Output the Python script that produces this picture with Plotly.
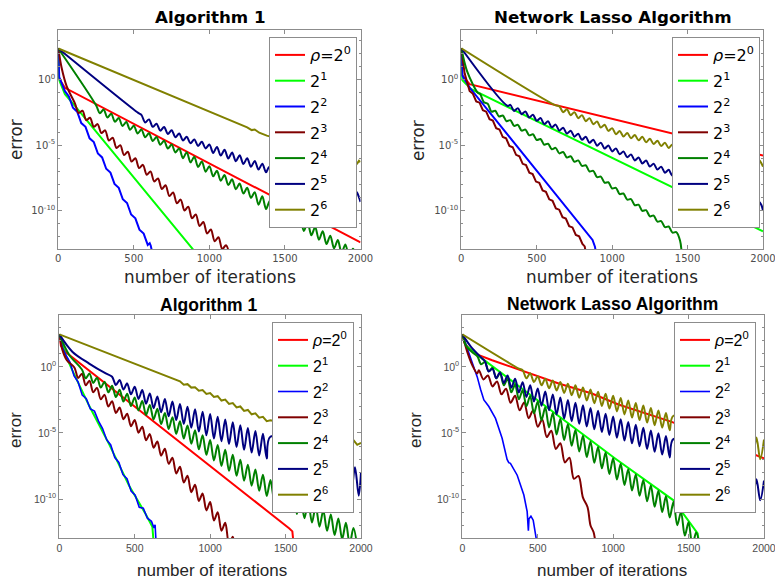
import plotly.graph_objects as go

# ---------------- data: iteration index and log10(error) ----------------
RHO_LABELS = ["<i>\u03c1</i>=2<sup>0</sup>", "2<sup>1</sup>", "2<sup>2</sup>", "2<sup>3</sup>",
              "2<sup>4</sup>", "2<sup>5</sup>", "2<sup>6</sup>"]
COLORS = ["#ff0000", "#00ff00", "#0000ff", "#800000", "#008000", "#000080", "#808000"]
PANEL_TITLES = ["Algorithm 1", "Network Lasso Algorithm", "Algorithm 1", "Network Lasso Algorithm"]
X_TICKS = [0, 500, 1000, 1500, 2000]
Y_TICK_VALUES = [1, 1e-5, 1e-10]
Y_TICK_TEXT = ["10<sup>0</sup>", "10<sup>-5</sup>", "10<sup>-10</sup>"]

# ---- panel 1 (top left, Algorithm 1) ----
P1_R_X = [0, 2, 44, 2000]
P1_R_Y = [2.4, 0.15, -0.61, -12.45]
P1_L_X = [0, 5, 44, 110, 900]
P1_L_Y = [2.4, 0.0, -1.1, -2.0, -13.1]
P1_B_X = [0, 6, 44, 70, 97, 125, 152, 180, 207, 235, 262, 290, 317, 345, 372, 400, 427, 455, 482, 510,
          537, 565, 592, 605, 612, 625]
P1_B_Y = [2.4, 0.2, -0.87, -1.27, -2.14, -2.44, -3.31, -3.60, -4.48, -4.77, -5.64, -5.94, -6.81, -7.10,
          -7.97, -8.27, -9.14, -9.43, -10.31, -10.60, -11.47, -11.77, -12.64, -12.5, -12.7, -13.4]
P1_DR_X = [0, 22, 55, 110, 135, 160, 185, 210, 235, 260, 285, 310, 335, 360, 385, 410, 435, 460, 485,
           510, 535, 560, 585, 610, 635, 660, 685, 710, 735, 760, 785, 810, 835, 860, 885, 910, 935, 960,
           985, 1010, 1035, 1060, 1085, 1110, 1135]
P1_DR_Y = [2.4, 0.92, -0.48, -1.8, -2.54, -2.37, -3.09, -2.91, -3.6, -3.39, -4.08, -3.87, -4.65, -4.43,
           -5.22, -5.0, -5.76, -5.51, -6.26, -6.01, -6.76, -6.51, -7.26, -7.01, -7.78, -7.55, -8.36, -8.07,
           -8.9, -8.62, -9.45, -9.17, -10.0, -9.71, -10.6, -10.3, -11.19, -10.88, -11.77, -11.46, -12.36,
           -12.05, -12.96, -12.66, -13.5]
P1_G_X = [0, 250, 275, 300, 325, 350, 375, 400, 425, 450, 475, 500, 525, 550, 575, 600, 625, 650, 675,
          700, 725, 750, 775, 800, 825, 850, 875, 900, 925, 950, 975, 1000, 1025, 1050, 1075, 1100, 1125,
          1150, 1175, 1200, 1225, 1250, 1275, 1300, 1325, 1350, 1375, 1400, 1425, 1450, 1475, 1500, 1525,
          1550, 1575, 1600, 1625, 1650, 1675, 1700, 1725, 1750, 1775, 1800, 1825, 1850, 1875, 1900, 1925,
          1950, 1975]
P1_G_Y = [2.4, -1.95, -2.56, -2.27, -2.89, -2.6, -3.21, -2.92, -3.53, -3.23, -3.82, -3.51, -4.11, -3.8,
          -4.4, -4.09, -4.68, -4.37, -4.97, -4.66, -5.26, -4.96, -5.56, -5.25, -6.0, -5.54, -6.32, -5.89,
          -6.67, -6.25, -7.03, -6.61, -7.39, -6.96, -7.73, -7.29, -8.06, -7.62, -8.38, -7.94, -8.71, -8.27,
          -9.04, -8.6, -9.56, -8.92, -9.89, -9.25, -10.22, -9.59, -10.56, -9.93, -10.9, -10.26, -11.23,
          -10.6, -11.57, -10.93, -11.9, -11.27, -12.24, -11.6, -12.57, -11.93, -12.9, -12.27, -13.24,
          -12.6, -13.57, -12.93, -13.6]
P1_N_X = [0, 529, 550, 575, 600, 625, 650, 675, 700, 725, 750, 775, 800, 825, 850, 875, 900, 925, 950,
          975, 1000, 1025, 1050, 1075, 1100, 1125, 1150, 1175, 1200, 1225, 1250, 1275, 1300, 1325, 1350,
          1375, 1400, 1900, 1925, 1950, 1975, 1990, 2000]
P1_N_Y = [2.4, -2.53, -2.68, -3.26, -3.03, -3.6, -3.36, -3.89, -3.61, -4.14, -3.86, -4.39, -4.11, -4.64,
          -4.36, -4.86, -4.56, -5.06, -4.75, -5.25, -4.95, -5.6, -5.14, -5.8, -5.36, -6.02, -5.57, -6.23,
          -5.78, -6.44, -6.0, -6.66, -6.21, -6.87, -6.42, -7.08, -6.63, -8.5, -9.3, -8.45, -8.6, -9.0,
          -9.35]
P1_O_X = [0, 1250, 1280, 1300, 1330, 1380, 1900, 1945, 1960, 1975, 1990, 2000]
P1_O_Y = [2.4, -3.64, -3.85, -3.8, -4.05, -4.27, -5.95, -6.1, -6.0, -6.45, -6.2, -6.3]

# ---- panel 2 (top right, Network Lasso) ----
P2_R_X = [0, 3, 55, 2000]
P2_R_Y = [2.41, 0.4, -0.33, -5.8]
P2_L_X = [0, 4, 66, 2000]
P2_L_Y = [2.41, 0.0, -0.72, -11.6]
P2_B_X = [0, 8, 55, 870, 886, 895]
P2_B_Y = [2.41, 0.3, -0.59, -12.26, -12.77, -13.4]
P2_DR_X = [0, 22, 55, 77, 99, 121, 143, 165, 187, 209, 231, 253, 275, 297, 319, 341, 363, 385, 407, 429,
           451, 473, 495, 517, 539, 561, 583, 605, 627, 649, 671, 693, 715, 737, 759, 781, 803, 818, 828]
P2_DR_Y = [2.41, 0.5, -0.85, -1.07, -1.65, -1.75, -2.33, -2.44, -3.02, -3.12, -3.70, -3.80, -4.38, -4.48,
           -5.06, -5.16, -5.74, -5.85, -6.43, -6.53, -7.11, -7.21, -7.79, -7.89, -8.47, -8.57, -9.15,
           -9.26, -9.84, -9.94, -10.52, -10.62, -11.20, -11.30, -11.88, -11.98, -12.56, -12.75, -13.4]
P2_G_X = [0, 40, 110, 125, 150, 175, 200, 225, 250, 275, 300, 325, 350, 375, 400, 425, 450, 475, 500, 525,
          550, 575, 600, 625, 650, 675, 700, 725, 750, 775, 800, 825, 850, 875, 900, 925, 950, 975, 1000,
          1025, 1050, 1075, 1100, 1125, 1150, 1175, 1200, 1225, 1250, 1275, 1300, 1325, 1350, 1375, 1400,
          1425, 1450, 1462]
P2_G_Y = [2.41, 0.6, -1.0, -1.09, -1.72, -1.83, -2.44, -2.37, -2.81, -2.73, -3.17, -3.09, -3.53, -3.45,
          -3.89, -3.81, -4.25, -4.17, -4.61, -4.53, -4.97, -4.89, -5.31, -5.21, -5.63, -5.53, -5.95, -5.85,
          -6.27, -6.17, -6.59, -6.54, -7.02, -6.97, -7.45, -7.41, -7.88, -7.84, -8.32, -8.27, -8.75, -8.70,
          -9.17, -9.13, -9.60, -9.56, -10.03, -9.98, -10.45, -10.39, -10.86, -10.81, -11.28, -11.23,
          -11.70, -11.65, -12.3, -13.4]
P2_N_X = [0, 308, 325, 350, 375, 400, 425, 450, 475, 500, 525, 550, 575, 600, 625, 650, 675, 700, 725,
          750, 775, 800, 825, 850, 875, 900, 925, 950, 975, 1000, 1025, 1050, 1075, 1100, 1125, 1150, 1175,
          1200, 1225, 1250, 1275, 1300, 1325, 1350, 1375, 1400, 1900, 1945, 1960, 1975, 1990, 2000]
P2_N_Y = [2.41, -2.0, -1.92, -2.38, -2.17, -2.63, -2.42, -2.89, -2.67, -3.14, -2.93, -3.39, -3.18, -3.64,
          -3.43, -3.89, -3.67, -4.12, -3.90, -4.35, -4.13, -4.59, -4.36, -4.82, -4.59, -5.04, -4.81, -5.26,
          -5.03, -5.48, -5.25, -5.70, -5.48, -5.93, -5.71, -6.17, -5.95, -6.40, -6.18, -6.64, -6.42, -6.87,
          -6.65, -7.11, -6.89, -7.34, -9.2, -9.3, -9.6, -9.35, -9.6, -10.0]
P2_O_X = [0, 625, 650, 675, 700, 725, 750, 775, 800, 825, 850, 875, 900, 925, 950, 975, 1000, 1025, 1050,
          1075, 1100, 1125, 1150, 1175, 1200, 1225, 1250, 1275, 1300, 1325, 1350, 1375, 1400, 1900, 1945,
          1960, 1975, 1990, 2000]
P2_O_Y = [2.41, -1.96, -2.03, -2.48, -2.26, -2.71, -2.48, -2.94, -2.71, -3.17, -2.94, -3.40, -3.19, -3.66,
          -3.44, -3.91, -3.70, -4.17, -3.92, -4.34, -4.07, -4.48, -4.22, -4.63, -4.36, -4.78, -4.51, -4.92,
          -4.66, -5.07, -4.81, -5.22, -4.95, -5.95, -6.1, -6.45, -6.15, -6.4, -6.65]

# ---- panel 3 (bottom left, Algorithm 1) ----
P3_R_X = [0, 10, 44, 1035, 1392, 1525, 1545, 1553]
P3_R_Y = [2.46, 1.6, 1.1, -7.8, -11.0, -12.23, -12.45, -13.4]
P3_L_X = [0, 44, 88, 198, 330, 463, 573, 617, 626]
P3_L_Y = [2.46, 0.8, -0.3, -2.95, -5.85, -9.0, -11.15, -12.1, -13.4]
P3_B_X = [0, 20, 44, 71, 98, 125, 152, 179, 206, 233, 260, 287, 314, 341, 368, 395, 422, 449, 476, 503,
          530, 557, 584, 611, 628, 635, 642]
P3_B_Y = [2.46, 1.5, 0.88, 0.34, -0.69, -1.16, -2.14, -2.41, -3.19, -3.35, -4.11, -4.67, -5.51, -5.91,
          -6.87, -7.23, -8.16, -8.47, -9.39, -9.71, -10.62, -10.70, -11.45, -11.69, -12.2, -11.95, -13.4]
P3_DR_X = [0, 20, 50, 100, 125, 150, 175, 200, 225, 250, 275, 300, 325, 350, 375, 400, 425, 450, 475,
           500, 525, 550, 575, 600, 625, 650, 675, 700, 725, 750, 775, 800, 825, 850, 875, 900, 925, 950,
           975, 1000, 1025, 1050, 1075, 1100, 1125, 1150, 1160]
P3_DR_Y = [2.46, 1.3, 0.5, -0.05, -0.84, -0.52, -1.39, -1.05, -1.92, -1.59, -2.46, -2.12, -3.0, -2.6,
           -3.49, -3.07, -3.96, -3.55, -4.49, -4.02, -4.98, -4.53, -5.56, -5.09, -6.12, -5.64, -6.72, -6.2,
           -7.34, -6.88, -8.07, -7.56, -8.75, -8.24, -9.48, -8.92, -10.15, -9.58, -10.86, -10.23, -11.62,
           -11.0, -12.4, -11.8, -13.4, -12.85, -13.5]
P3_G_X = [0, 66, 150, 175, 200, 225, 250, 275, 300, 325, 350, 375, 400, 425, 450, 475, 500, 525, 550, 575,
          600, 625, 650, 675, 700, 725, 750, 775, 800, 825, 850, 875, 900, 925, 950, 975, 1000, 1025, 1050,
          1075, 1100, 1125, 1150, 1175, 1200, 1225, 1250, 1275, 1300, 1325, 1350, 1375, 1400, 1425, 1450,
          1475, 1500, 1525, 1550, 1575, 1600, 1625, 1650, 1675, 1700, 1725, 1750, 1775, 1800, 1825, 1850,
          1875, 1900, 1925, 1950, 1975]
P3_G_Y = [2.46, 0.9, -0.2, -0.86, -0.51, -1.22, -0.82, -1.57, -1.12, -1.93, -1.43, -2.28, -1.73, -2.63,
          -2.03, -2.97, -2.31, -3.3, -2.59, -3.64, -2.88, -3.98, -3.17, -4.33, -3.49, -4.7, -3.81, -5.07,
          -4.12, -5.43, -4.44, -5.82, -4.8, -6.24, -5.17, -6.66, -5.54, -7.08, -5.91, -7.5, -6.28, -7.87,
          -6.65, -8.24, -7.03, -8.62, -7.4, -8.99, -7.77, -9.37, -8.17, -9.77, -8.56, -10.13, -8.89, -10.46,
          -9.23, -10.8, -9.56, -11.13, -9.9, -11.46, -10.22, -11.78, -10.53, -12.09, -10.85, -12.41,
          -11.17, -12.73, -11.48, -13.04, -11.8, -13.4, -12.2, -13.6]
P3_N_X = [0, 88, 198, 308, 350, 375, 400, 425, 450, 475, 500, 525, 550, 575, 600, 625, 650, 675, 700,
          725, 750, 775, 800, 825, 850, 875, 900, 925, 950, 975, 1000, 1025, 1050, 1075, 1100, 1125, 1150,
          1175, 1200, 1225, 1250, 1275, 1300, 1325, 1350, 1375, 1400, 1910, 1935, 1960, 1985, 2000]
P3_N_Y = [2.46, 1.13, 0.25, -0.5, -0.75, -1.37, -0.99, -1.72, -1.25, -2.08, -1.5, -2.43, -1.76, -2.79,
          -2.01, -3.13, -2.24, -3.44, -2.44, -3.74, -2.63, -4.03, -2.82, -4.32, -3.02, -4.61, -3.2, -4.9,
          -3.39, -5.18, -3.57, -5.42, -3.77, -5.63, -3.98, -5.84, -4.2, -6.06, -4.42, -6.28, -4.63, -6.49,
          -4.85, -6.71, -5.07, -6.93, -5.28, -7.5, -9.5, -7.6, -9.75, -8.0]
P3_O_X = [0, 800, 825, 850, 875, 900, 925, 950, 975, 1000, 1025, 1050, 1075, 1100, 1125, 1150, 1175,
          1200, 1225, 1250, 1275, 1300, 1325, 1350, 1375, 1400, 1900, 1925, 1950, 1975, 2000]
P3_O_Y = [2.46, -1.09, -1.35, -1.31, -1.57, -1.54, -1.8, -1.76, -2.05, -1.98, -2.28, -2.22, -2.55, -2.48,
          -2.81, -2.74, -3.07, -3.0, -3.33, -3.26, -3.59, -3.52, -3.85, -3.78, -4.11, -4.04, -5.4, -5.75,
          -5.55, -5.9, -5.75]

# ---- panel 4 (bottom right, Network Lasso) ----
P4_R_X = [0, 15, 44, 110, 198, 419, 639, 859, 1035, 1388, 2000]
P4_R_Y = [2.46, 1.8, 1.39, 0.88, 0.5, -0.38, -1.26, -2.02, -2.85, -4.16, -6.93]
P4_L_X = [0, 25, 88, 308, 1013, 1400, 1560, 1570]
P4_L_Y = [2.46, 1.6, 1.0, -0.88, -6.93, -10.1, -12.6, -13.4]
P4_B_X = [0, 33, 66, 99, 121, 143, 160, 176, 220, 264, 297, 308, 319, 364, 408, 430, 438, 442, 455, 470,
          480, 496]
P4_B_Y = [2.46, 1.39, 0.38, -0.76, -1.7, -2.5, -2.75, -3.0, -3.9, -5.4, -7.0, -7.25, -7.3, -8.2, -9.7,
          -10.96, -12.4, -11.5, -11.3, -11.6, -12.3, -13.4]
P4_DR_X = [0, 33, 66, 99, 110, 140, 170, 200, 230, 260, 290, 320, 350, 380, 410, 440, 470, 500, 530, 560,
           590, 620, 650, 680, 710, 740, 770, 800, 830, 850, 870, 885]
P4_DR_Y = [2.46, 1.13, 0.13, -0.5, -0.25, -0.95, -0.66, -1.48, -1.1, -2.08, -1.65, -2.72, -2.19, -3.29,
           -2.69, -3.89, -3.28, -4.53, -3.98, -5.31, -4.84, -6.21, -5.78, -7.23, -6.87, -8.47, -8.26, -9.9,
           -10.6, -12.0, -12.5, -13.5]
P4_G_X = [0, 25, 66, 100, 125, 150, 175, 200, 225, 250, 275, 300, 325, 350, 375, 400, 425, 450, 475, 500,
          525, 550, 575, 600, 625, 650, 675, 700, 725, 750, 775, 800, 825, 850, 875, 900, 925, 950, 975,
          1000, 1025, 1050, 1075, 1100, 1125, 1150, 1175, 1200, 1225, 1250, 1275, 1300, 1325, 1350, 1375,
          1400, 1425, 1450, 1475, 1500, 1525, 1550, 1575]
P4_G_Y = [2.46, 1.6, 1.1, 0.8, 0.19, 0.37, -0.34, -0.06, -0.87, -0.48, -1.4, -0.91, -1.93, -1.34, -2.46,
          -1.77, -2.99, -2.2, -3.52, -2.63, -4.05, -3.06, -4.58, -3.49, -5.11, -3.92, -5.54, -4.35, -5.97,
          -4.78, -6.4, -5.21, -6.83, -5.64, -7.25, -6.06, -7.68, -6.49, -8.11, -6.92, -8.53, -7.33, -8.94,
          -7.74, -9.35, -8.15, -9.76, -8.56, -10.17, -8.97, -10.58, -9.38, -10.99, -9.79, -11.4, -10.2,
          -11.99, -10.98, -12.77, -11.76, -13.55, -12.54, -13.6]
P4_N_X = [0, 66, 132, 150, 175, 200, 225, 250, 275, 300, 325, 350, 375, 400, 425, 450, 475, 500, 525, 550,
          575, 600, 625, 650, 675, 700, 725, 750, 775, 800, 825, 850, 875, 900, 925, 950, 975, 1000, 1025,
          1050, 1075, 1100, 1125, 1150, 1175, 1200, 1225, 1250, 1275, 1300, 1325, 1350, 1375, 1400, 1900,
          1925, 1950, 1975, 2000]
P4_N_Y = [2.46, 1.39, 0.63, 0.42, -0.36, -0.14, -0.87, -0.4, -1.23, -0.65, -1.58, -0.91, -1.94, -1.16,
          -2.28, -1.4, -2.62, -1.63, -2.95, -1.86, -3.28, -2.09, -3.6, -2.31, -3.91, -2.51, -4.11, -2.71,
          -4.31, -2.91, -4.51, -3.11, -4.72, -3.32, -4.93, -3.54, -5.15, -3.75, -5.36, -3.96, -5.57, -4.18,
          -5.79, -4.39, -6.0, -4.6, -6.21, -4.81, -6.42, -5.03, -6.64, -5.24, -6.85, -5.46, -8.4, -10.0,
          -8.5, -10.1, -8.6]
P4_O_X = [0, 375, 400, 425, 450, 475, 500, 525, 550, 575, 600, 625, 650, 675, 700, 725, 750, 775, 800,
          825, 850, 875, 900, 925, 950, 975, 1000, 1025, 1050, 1075, 1100, 1125, 1150, 1175, 1200, 1225,
          1250, 1275, 1300, 1325, 1350, 1375, 1400, 1900, 1925, 1950, 1975, 2000]
P4_O_Y = [2.46, -0.13, -0.25, -0.87, -0.48, -1.15, -0.71, -1.4, -0.9, -1.62, -1.03, -1.79, -1.15, -1.97,
          -1.28, -2.14, -1.4, -2.33, -1.56, -2.54, -1.72, -2.75, -1.88, -2.96, -2.03, -3.16, -2.19, -3.37,
          -2.35, -3.6, -2.54, -3.84, -2.73, -4.03, -2.92, -4.22, -3.11, -4.41, -3.3, -4.6, -3.5, -4.8,
          -3.7, -5.2, -6.9, -5.35, -7.0, -5.5]

PANEL_SERIES = [
    [(P1_R_X, P1_R_Y), (P1_L_X, P1_L_Y), (P1_B_X, P1_B_Y), (P1_DR_X, P1_DR_Y),
     (P1_G_X, P1_G_Y), (P1_N_X, P1_N_Y), (P1_O_X, P1_O_Y)],
    [(P2_R_X, P2_R_Y), (P2_L_X, P2_L_Y), (P2_B_X, P2_B_Y), (P2_DR_X, P2_DR_Y),
     (P2_G_X, P2_G_Y), (P2_N_X, P2_N_Y), (P2_O_X, P2_O_Y)],
    [(P3_R_X, P3_R_Y), (P3_L_X, P3_L_Y), (P3_B_X, P3_B_Y), (P3_DR_X, P3_DR_Y),
     (P3_G_X, P3_G_Y), (P3_N_X, P3_N_Y), (P3_O_X, P3_O_Y)],
    [(P4_R_X, P4_R_Y), (P4_L_X, P4_L_Y), (P4_B_X, P4_B_Y), (P4_DR_X, P4_DR_Y),
     (P4_G_X, P4_G_Y), (P4_N_X, P4_N_Y), (P4_O_X, P4_O_Y)],
]
# series drawn as smoothed (scalloped) curves
SMOOTH = {(0, 3), (0, 4), (0, 5), (1, 4), (1, 5), (1, 6),
          (2, 3), (2, 4), (2, 5), (3, 3), (3, 4), (3, 5), (3, 6)}

# ---------------- layout geometry ----------------
W, H = 775, 583
TOP_FONT = "DejaVu Sans"
BOT_FONT = "Liberation Sans"
PANEL_FONTS = [TOP_FONT, TOP_FONT, BOT_FONT, BOT_FONT]
# plot boxes in pixels: (left, right, top, bottom)
BOXES = [(58.3, 360.5, 29.5, 249.0), (461.3, 763.0, 29.5, 249.0),
         (59.3, 361.0, 315.3, 538.0), (462.3, 764.0, 315.3, 538.0)]
LEGEND_POS = [(269, 37), (672, 37), (272, 322), (674, 322)]
Y_RANGES = [[-12.95, 3.85], [-12.95, 3.85], [-12.95, 3.9], [-12.95, 3.9]]

fig = go.Figure()
AX_GRAY = "#8c8c8c"
TICK_GRAY = "#4d4d4d"

for p in range(4):
    sfx = "" if p == 0 else str(p + 1)
    leg = "legend" if p == 0 else "legend" + str(p + 1)
    for k, (xs, ys) in enumerate(PANEL_SERIES[p]):
        assert len(xs) == len(ys), (p, k, len(xs), len(ys))
        lw = 2.0
        if p >= 2 and k == 2:
            lw = 1.6
        line = dict(color=COLORS[k], width=lw)
        if (p, k) in SMOOTH:
            line.update(shape="spline", smoothing=0.9)
        fig.add_trace(go.Scatter(
            x=xs, y=[10.0 ** v for v in ys], mode="lines", line=line,
            name=RHO_LABELS[k], legend=leg, legendgroup=f"p{p}s{k}",
            xaxis="x" + sfx, yaxis="y" + sfx, showlegend=True,
        ))
    l, r, t, b = BOXES[p]
    font = PANEL_FONTS[p]
    tsize = 10 if p < 2 else 10.5
    fig.layout["xaxis" + sfx] = dict(
        domain=[l / W, r / W], anchor="y" + sfx, range=[0, 2000],
        tickvals=X_TICKS, ticks="inside", ticklen=4, tickcolor=AX_GRAY,
        showline=True, mirror="ticks", linecolor=AX_GRAY, linewidth=1,
        showgrid=False, zeroline=False, ticklabeloverflow="allow",
        tickfont=dict(family=font, size=tsize, color=TICK_GRAY),
    )
    fig.layout["yaxis" + sfx] = dict(
        domain=[1 - b / H, 1 - t / H], anchor="x" + sfx, type="log", range=Y_RANGES[p],
        tickvals=Y_TICK_VALUES, ticktext=Y_TICK_TEXT, ticks="inside", ticklen=4, tickcolor=AX_GRAY,
        minor=dict(tickvals=[10.0 ** e for e in range(-12, 4)], ticks="inside", ticklen=2,
                   tickcolor=AX_GRAY, showgrid=False),
        showline=True, mirror="ticks", linecolor=AX_GRAY, linewidth=1,
        showgrid=False, zeroline=False,
        tickfont=dict(family=font, size=tsize, color=TICK_GRAY),
    )
    lx, ly = LEGEND_POS[p]
    fig.layout[leg] = dict(
        x=lx / W, y=1 - ly / H, xanchor="left", yanchor="top",
        xref="paper", yref="paper",
        bgcolor="white", bordercolor=AX_GRAY, borderwidth=1,
        font=dict(family=font, size=16, color="black"),
        itemwidth=30, tracegroupgap=2, traceorder="grouped",
    )

# titles and axis labels as text annotations
TITLE_POS = [(210, 17), (613, 17), (209, 305), (612, 304)]
XLAB_POS = [(210, 277), (612, 277), (212, 570), (612, 570)]
YLAB_POS = [(16, 140), (418, 140), (15, 430), (415, 430)]
ann = []
for p in range(4):
    font = PANEL_FONTS[p]
    tx, ty = TITLE_POS[p]
    ann.append(dict(text="<b>" + PANEL_TITLES[p] + "</b>", x=tx / W, y=1 - ty / H, xref="paper", yref="paper",
                    showarrow=False, xanchor="center", yanchor="middle",
                    font=dict(family=font, size=16.7 if p < 2 else 17.5, color="black")))
    xx, xy = XLAB_POS[p]
    ann.append(dict(text="number of iterations", x=xx / W, y=1 - xy / H, xref="paper", yref="paper",
                    showarrow=False, xanchor="center", yanchor="middle",
                    font=dict(family=font, size=16.8 if p < 2 else 17, color="#262626")))
    yx, yy = YLAB_POS[p]
    ann.append(dict(text="error", x=yx / W, y=1 - yy / H, xref="paper", yref="paper", textangle=-90,
                    showarrow=False, xanchor="center", yanchor="middle",
                    font=dict(family=font, size=16.8 if p < 2 else 17, color="#262626")))

fig.update_layout(
    width=W, height=H, margin=dict(l=0, r=0, t=0, b=0, autoexpand=False),
    paper_bgcolor="white", plot_bgcolor="white",
    annotations=ann,
)

fig.write_html("out.html", config={"displayModeBar": False},
               post_script="document.body.style.margin='0px';document.body.style.overflow='hidden';")
